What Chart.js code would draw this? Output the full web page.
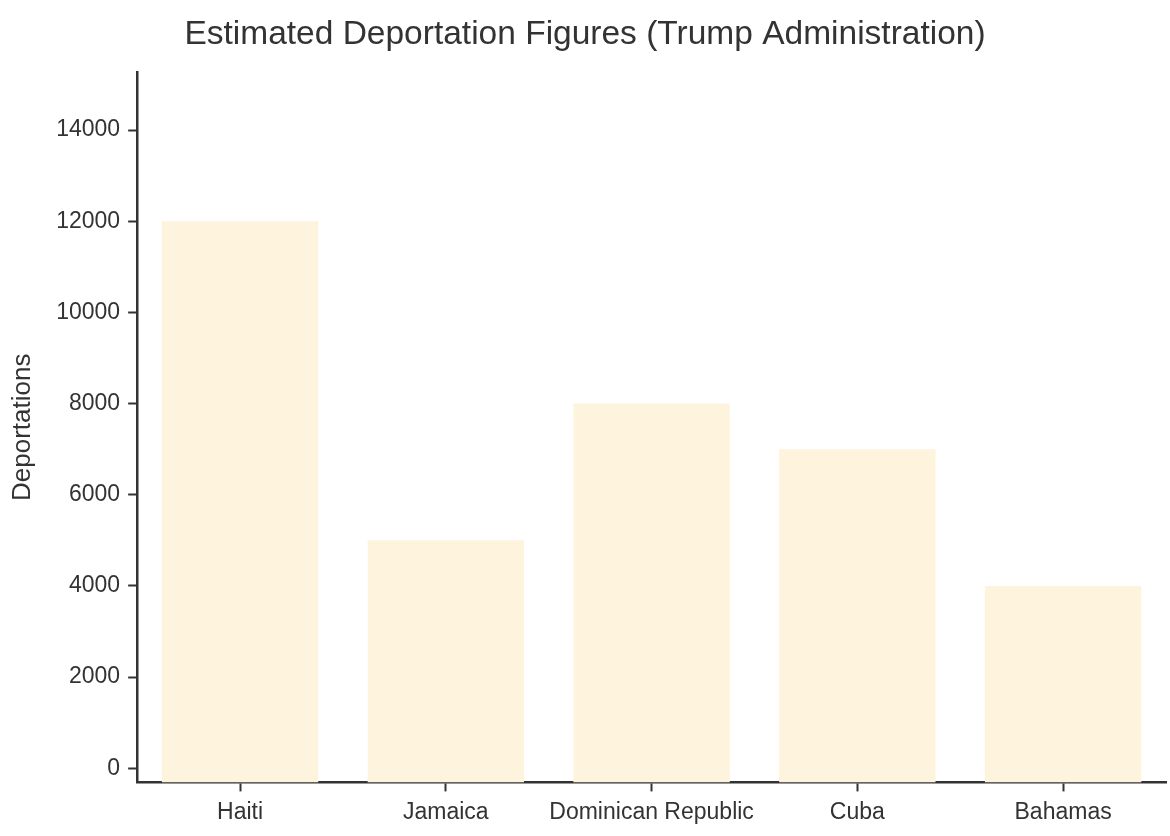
<!DOCTYPE html>
<html>
<head>
<meta charset="utf-8">
<script src="https://cdn.jsdelivr.net/npm/chart.js@4/dist/chart.umd.min.js"></script>
<style>
  html, body { margin: 0; padding: 0; background: #fff; }
  #wrap { width: 1170px; height: 836px; position: relative; }
</style>
</head>
<body>
<div id="wrap"><canvas id="chart"></canvas></div>
<script>
// data
const countries = ['Haiti', 'Jamaica', 'Dominican Republic', 'Cuba', 'Bahamas'];
const deportations = [12000, 5000, 8000, 7000, 4000];
const yTickValues = [0, 2000, 4000, 6000, 8000, 10000, 12000, 14000];
const yMin = -310;
const yMax = 15270;

const ink = '#333333';
const font = "'Liberation Sans', Arial, Helvetica, sans-serif";

const ctx = document.getElementById('chart').getContext('2d');
new Chart(ctx, {
    type: 'bar',
    data: {
        labels: countries,
        datasets: [{
            label: 'Deportations',
            data: deportations,
            base: yMin,
            backgroundColor: '#fef3dd',
            borderWidth: 0,
            barPercentage: 0.76,
            categoryPercentage: 1.0
        }]
    },
    options: {
        responsive: true,
        maintainAspectRatio: false,
        animation: false,
        layout: { padding: { left: 4, right: 4, top: 10, bottom: 3 } },
        plugins: {
            legend: { display: false },
            tooltip: { enabled: false },
            title: {
                display: true,
                text: 'Estimated Deportation Figures (Trump Administration)',
                color: ink,
                font: { family: font, size: 33.5, weight: 'normal' },
                padding: { top: 5, bottom: 17 }
            }
        },
        scales: {
            x: {
                offset: true,
                grid: {
                    display: true,
                    drawOnChartArea: false,
                    drawTicks: true,
                    tickLength: 9,
                    tickWidth: 2,
                    tickColor: ink,
                    offset: false
                },
                border: { display: true, color: ink, width: 2.5 },
                ticks: {
                    color: ink,
                    font: { family: font, size: 23 },
                    padding: 7,
                    maxRotation: 0,
                    autoSkip: false
                }
            },
            y: {
                min: yMin,
                max: yMax,
                afterBuildTicks: scale => {
                    scale.ticks = yTickValues.map(v => ({ value: v }));
                },
                grid: {
                    display: true,
                    drawOnChartArea: false,
                    drawTicks: true,
                    tickLength: 9,
                    tickWidth: 2,
                    tickColor: ink
                },
                border: { display: true, color: ink, width: 2.5 },
                ticks: {
                    color: ink,
                    font: { family: font, size: 23 },
                    padding: 8,
                    callback: v => String(v)
                },
                title: {
                    display: true,
                    text: 'Deportations',
                    color: ink,
                    font: { family: font, size: 26 },
                    padding: { top: 3, bottom: 10 }
                }
            }
        }
    }
});
</script>
</body>
</html>
